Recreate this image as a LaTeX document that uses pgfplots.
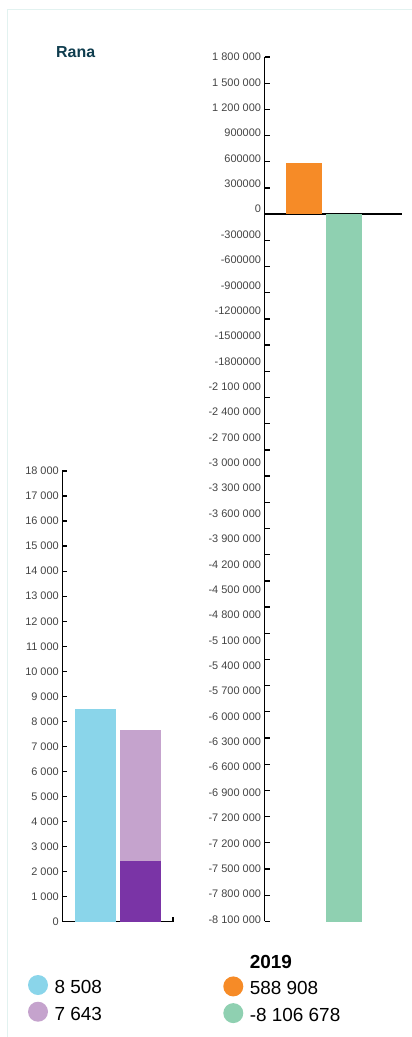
\documentclass[border=0pt]{standalone}
\usepackage{pgfplots}
\pgfplotsset{compat=1.18}
\usepackage{fontspec}
\setmainfont{Liberation Sans}

\definecolor{skyblue}{HTML}{8AD5EA}
\definecolor{lilac}{HTML}{C5A3CD}
\definecolor{plum}{HTML}{7A34A6}
\definecolor{tangerine}{HTML}{F68B27}
\definecolor{mint}{HTML}{8FD0B1}
\definecolor{titlecol}{HTML}{0F3D4E}
\definecolor{tickgray}{HTML}{444444}
\definecolor{framecol}{HTML}{E2F2F0}

\pgfplotsset{
  bardefaults/.style={
    scale only axis, anchor=south west,
    enlargelimits=false, clip=false,
    axis line style={line width=1.5bp, black},
    every outer x axis line/.append style={-},
    every outer y axis line/.append style={-},
    every inner x axis line/.append style={-},
    every inner y axis line/.append style={-},
    tick align=inside,
    tick style={line width=1.3bp, black},
    tick label style={font=\fontsize{11}{13}\selectfont, text=tickgray},
    scaled y ticks=false,
    legend image code/.code={\fill[##1,draw=none] (10bp,2.5bp) circle (10bp);},
    legend cell align=left,
  },
  dotlegend/.style={
    anchor=north west, draw=none, fill=none, inner sep=0pt, outer sep=0pt,
    font=\fontsize{19}{22}\selectfont, row sep=6.7bp,
    nodes={inner sep=0pt, text=black},
    /tikz/every odd column/.append style={column sep=6.5bp},
  },
}

\begin{document}
\begin{tikzpicture}
\useasboundingbox (0bp,0bp) rectangle (412bp,1037bp);
\draw[framecol, line width=1bp] (7bp,0bp) -- (7bp,1027bp) -- (412bp,1027bp);
\node[anchor=base west, inner sep=0pt, text=titlecol,
      font=\fontsize{16}{19}\selectfont\bfseries] at (56bp,979.7bp) {Rana};

% left panel: two bars, the second one split in two shades
\begin{axis}[
  ybar, bar width=41bp, bar shift=0pt,
  at={(62.3bp,115.3bp)},
  width=110.7bp, height=450.7bp,
  xmin=0, xmax=110.7, ymin=0, ymax=18000,
  axis lines=left,
  bardefaults,
  major tick length=5bp,
  xtick={110.7}, xticklabels={},
  ytick={0,1000,...,18000},
  yticklabels={0,1 000,2 000,3 000,4 000,5 000,6 000,7 000,8 000,9 000,10 000,
    11 000,12 000,13 000,14 000,15 000,16 000,17 000,18 000},
  legend style={dotlegend, at={(-0.3098,-0.1183)}},
]
\addplot[fill=skyblue, draw=none] coordinates {(33.2,8508)};
\addlegendentry{8 508}
\addplot[fill=lilac, draw=none] coordinates {(78.2,7643)};
\addlegendentry{7 643}
\addplot[fill=plum, draw=none, forget plot] coordinates {(78.2,2420)};
\end{axis}

% right panel: 2019
\begin{axis}[
  ybar, bar width=36bp, bar shift=0pt,
  at={(264.5bp,115.6bp)},
  width=137.5bp, height=864.4bp,
  xmin=0, xmax=137.5, ymin=-8100000, ymax=1800000,
  axis y line=left, axis x line=middle,
  bardefaults,
  xtick=\empty,
  major tick length=0bp, minor tick length=5bp,
  minor tick style={line width=1.3bp, black},
  minor ytick={1800000,1500000,1200000,900000,600000,300000,0,-300000,-600000,
    -900000,-1200000,-1500000,-1800000,-2100000,-2400000,-2700000,-3000000,
    -3300000,-3600000,-3900000,-4200000,-4500000,-4800000,-5100000,-5400000,
    -5700000,-6000000,-6300000,-6600000,-6900000,-7200000,-7500000,-7800000,
    -8100000},
  ytick={1800000,1509500,1219000,928500,638000,347500,57000,-233500,-524000,
    -814500,-1105000,-1395500,-1686000,-1976500,-2267000,-2557500,-2848000,
    -3138500,-3429000,-3719500,-4010000,-4300500,-4591000,-4881500,-5172000,
    -5462500,-5753000,-6043500,-6334000,-6624500,-6915000,-7205500,-7496000,
    -7786500,-8077000},
  yticklabels={1 800 000,1 500 000,1 200 000,900000,600000,300000,0,-300000,
    -600000,-900000,-1200000,-1500000,-1800000,-2 100 000,-2 400 000,-2 700 000,
    -3 000 000,-3 300 000,-3 600 000,-3 900 000,-4 200 000,-4 500 000,-4 800 000,
    -5 100 000,-5 400 000,-5 700 000,-6 000 000,-6 300 000,-6 600 000,-6 900 000,
    -7 200 000,-7 200 000,-7 500 000,-7 800 000,-8 100 000},
  legend style={dotlegend, at={(-0.2996,-0.0389)}},
]
\addlegendimage{empty legend}
\addlegendentry{\textbf{2019}}
\addplot[fill=tangerine, draw=none] coordinates {(39.5,588908)};
\addlegendentry{588 908}
\addplot[fill=mint, draw=none] coordinates {(79.5,-8106678)};
\addlegendentry{-8 106 678}
\end{axis}
\end{tikzpicture}
\end{document}
